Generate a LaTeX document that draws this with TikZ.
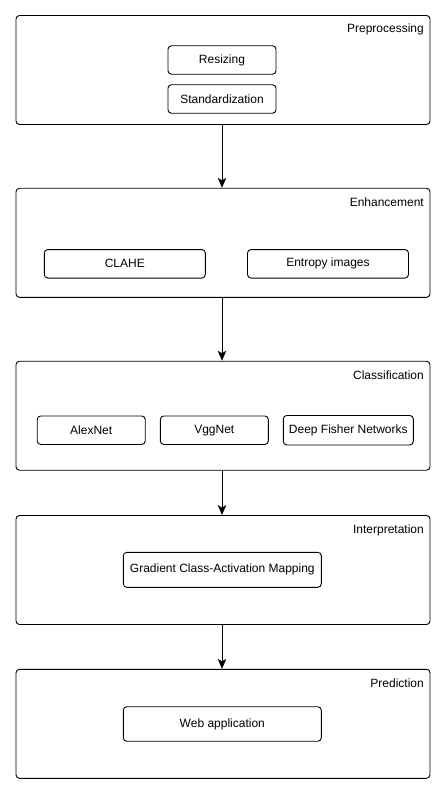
\documentclass[tikz,border=0pt]{standalone}
\usepackage{fontspec}
\setmainfont{Liberation Sans}
\usetikzlibrary{arrows.meta}

\begin{document}
\begin{tikzpicture}[x=1pt,y=-1pt,
  stage/.style={draw, line width=0.9pt, rounded corners=3.5pt, minimum width=414pt, minimum height=109pt},
  task/.style={draw, line width=0.9pt, rounded corners=3.5pt, minimum height=28.5pt, inner sep=0pt},
  title/.style={anchor=east, inner sep=0pt},
  flow/.style={line width=0.9pt, -{Stealth[length=10pt,width=8.5pt,inset=2.5pt]}},
  font=\fontsize{12}{14}\selectfont]

\useasboundingbox (0,0) rectangle (445,794);

% stages
\node[stage] (pre) at (223,70) {};
\node[title] at (424,29) {Preprocessing};

\node[stage] (enh) at (223,242.8) {};
\node[title] at (424,202.3) {Enhancement};

\node[stage] (cls) at (223,415.7) {};
\node[title] at (424,375) {Classification};

\node[stage] (itp) at (223,570) {};
\node[title] at (424,530) {Interpretation};

\node[stage] (prd) at (223,723.8) {};
\node[title] at (424,683.7) {Prediction};

% tasks
\node[task, minimum width=108pt] (res) at (222,60) {Resizing};
\node[task, minimum width=108pt] (std) at (222,99) {Standardization};

\node[task, minimum width=161pt] (clahe) at (124.8,263.8) {CLAHE};
\node[task, minimum width=161pt] (ent) at (328,263.8) {Entropy images};

\node[task, minimum width=108pt] (alex) at (91.2,430.2) {AlexNet};
\node[task, minimum width=108pt] (vgg) at (214.3,430.2) {VggNet};
\node[task, minimum width=130pt, minimum height=29.5pt] (dfn) at (348.3,430.2) {Deep Fisher Networks};

\node[task, minimum width=198pt, minimum height=35pt] (gcam) at (222.3,569.8) {Gradient Class-Activation Mapping};

\node[task, minimum width=198pt, minimum height=34.5pt] (web) at (222.3,724) {Web application};

% flow between stages
\draw[flow] (pre.south -| res) -- (enh.north -| res);
\draw[flow] (enh.south -| res) -- (cls.north -| res);
\draw[flow] (cls.south -| res) -- (itp.north -| res);
\draw[flow] (itp.south -| res) -- (prd.north -| res);

\end{tikzpicture}
\end{document}
